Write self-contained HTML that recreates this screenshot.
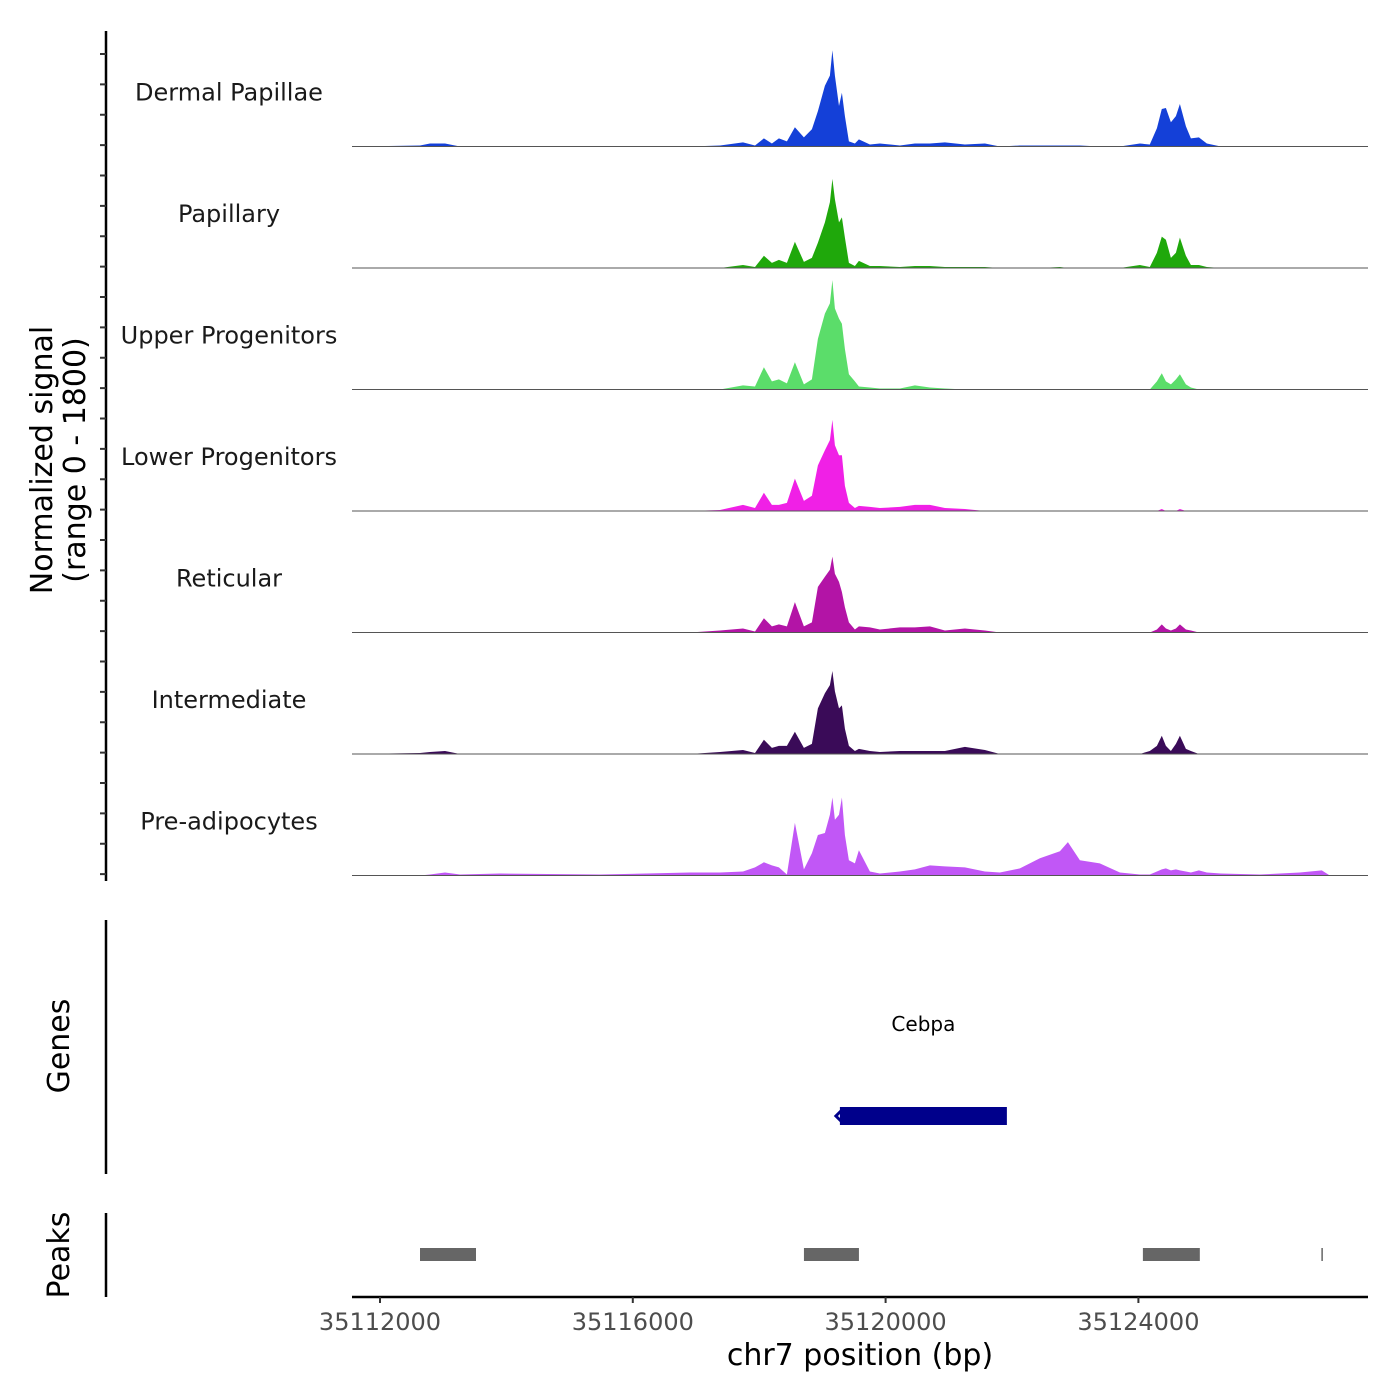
<!DOCTYPE html>
<html><head><meta charset="utf-8">
<style>
html,body{margin:0;padding:0;background:#fff;}
svg{display:block;font-family:"DejaVu Sans","Liberation Sans",sans-serif;}
</style></head>
<body>
<svg id="chart" width="1400" height="1400" viewBox="0 0 1400 1400" xmlns="http://www.w3.org/2000/svg">
<g id="tracks"></g>
<g id="axes"></g>
</svg>
<script>
// ---- data ----
const positions = [35111557,35112633,35112791,35113028,35113266,35113898,35115480,35116904,35117379,35117743,35117933,35118075,35118201,35118312,35118439,35118565,35118708,35118834,35118929,35119040,35119119,35119159,35119198,35119262,35119309,35119356,35119420,35119515,35119578,35119752,35119910,35120226,35120464,35120701,35120938,35121255,35121571,35121808,35122125,35122441,35122758,35122884,35123074,35123390,35123707,35124023,35124181,35124292,35124371,35124435,35124514,35124593,35124656,35124751,35124830,35124957,35125083,35125305,35125922,35126554,35126902,35127029,35127630];
const trackNames = ["Dermal Papillae","Papillary","Upper Progenitors","Lower Progenitors","Reticular","Intermediate","Pre-adipocytes"];
const trackColors = ["#1440d8","#1fa80b","#5bdd6a","#f020e6","#b314a6","#3a0b58","#c157f6"];
const dermalPapillae = [0,15,45,45,0,0,0,0,15,60,15,120,45,120,75,285,135,255,525,900,1050,1425,1050,600,795,450,75,45,105,30,45,15,45,45,60,30,45,0,15,15,15,15,15,0,0,45,30,270,555,570,360,450,630,300,120,135,45,0,0,0,0,0,0];
const papillary = [0,0,0,0,0,0,0,0,0,45,15,180,75,120,75,390,90,150,375,675,975,1320,1020,675,750,450,75,30,105,30,30,15,30,30,15,15,15,0,0,0,15,0,0,0,0,45,15,225,465,420,150,225,450,180,45,45,15,0,0,0,0,0,0];
const upperProgenitors = [0,0,0,0,0,0,0,0,0,60,45,330,120,150,90,405,75,150,750,1125,1275,1620,1200,1050,975,600,225,120,45,30,15,15,60,30,15,0,0,0,0,0,0,0,0,0,0,0,0,120,240,120,75,150,225,75,30,0,0,0,0,0,0,0,0];
const lowerProgenitors = [0,0,0,0,0,0,0,0,15,90,45,270,90,90,120,480,150,225,675,900,1050,1350,975,825,825,375,120,45,75,60,45,60,90,90,45,30,0,0,0,0,0,0,0,0,0,0,0,0,30,0,0,0,30,0,0,0,0,0,0,0,0,0,0];
const reticular = [0,0,0,0,0,0,0,0,30,60,15,210,90,120,90,450,90,150,675,825,930,1125,870,750,600,375,150,45,90,75,45,75,75,90,30,60,30,0,0,0,0,0,0,0,0,0,0,45,120,60,30,60,120,45,30,0,0,0,0,0,0,0,0];
const intermediate = [0,15,30,45,0,0,0,0,30,60,15,210,90,120,120,330,90,150,675,900,1020,1230,930,675,720,375,120,45,75,45,30,45,45,45,45,105,60,0,0,0,0,0,0,0,0,0,45,120,270,120,45,150,270,75,45,0,0,0,0,0,0,0,0];
const preAdipocytes = [0,0,15,45,15,30,15,45,45,60,120,195,150,120,15,780,90,330,600,630,900,1155,825,900,1155,600,225,180,375,60,30,60,90,150,135,120,60,45,105,255,360,495,225,180,45,15,15,60,90,105,75,90,75,60,45,75,45,30,15,45,75,0,0];
const trackValues = [dermalPapillae,papillary,upperProgenitors,lowerProgenitors,reticular,intermediate,preAdipocytes];
const xTicks = [35112000,35116000,35120000,35124000];
const geneName = "Cebpa";
const geneStart = 35119277, geneEnd = 35121919;
const peakStarts = [35112633,35118708,35124071,35126895];
const peakEnds = [35113519,35119578,35124972,35126905];
const signalMax = 1800;

// ---- scales ----
const X0 = 380, BP0 = 35112000, PXPERBP = 63.2/1000;
function xs(bp){ return X0 + (bp - BP0) * PXPERBP; }
const trackTop = 25, trackH = 121.5;
function baseY(i){ return trackTop + trackH*(i+1); }
function ys(i, v){ return baseY(i) - v / signalMax * trackH; }

const NS = "http://www.w3.org/2000/svg";
function mk(tag, attrs, parent){
  const e = document.createElementNS(NS, tag);
  for (const k in attrs) e.setAttribute(k, attrs[k]);
  parent.appendChild(e); return e;
}
const tracks = document.getElementById('tracks');
const axes = document.getElementById('axes');
const PX_L = 352, PX_R = 1368;

trackValues.forEach((vals, i) => {
  const g = mk('g', {}, tracks);
  
  
  let d = 'M' + PX_L + ',' + baseY(i);
  positions.forEach((p, j) => {
    const x = Math.min(PX_R, Math.max(PX_L, xs(p)));
    d += ' L' + x.toFixed(1) + ',' + ys(i, vals[j]).toFixed(1);
  });
  d += ' L' + PX_R + ',' + baseY(i) + ' Z';
  const area = mk('path', {d: d, fill: trackColors[i], stroke: 'none'}, g);
  
  
  const bl = mk('line', {x1: PX_L, x2: PX_R, y1: baseY(i), y2: baseY(i), stroke: '#555', 'stroke-width': 1}, g);
  
  
  const lab = mk('text', {x: 229, y: baseY(i) - 55 + 9, 'text-anchor': 'middle', 'font-size': 24, fill: '#1a1a1a'}, g);
  lab.textContent = trackNames[i];
  
  
});

// left signal axis
const ya = mk('line', {x1: 106, x2: 106, y1: 31, y2: 881, stroke: '#000', 'stroke-width': 2.5}, axes);


for (let k = 0; k <= 28; k++) {
  const y = trackTop + 31 + k * (trackH/4) - 2;
  if (y > 880) break;
  const t = mk('line', {x1: 100, x2: 106, y1: y, y2: y, stroke: '#333', 'stroke-width': 2}, axes);
  
  
}
const yt = mk('text', {transform: 'translate(52,460) rotate(-90)', 'text-anchor': 'middle', 'font-size': 30, fill: '#000'}, axes);
yt.textContent = 'Normalized signal';


const yt2 = mk('text', {transform: 'translate(85,460) rotate(-90)', 'text-anchor': 'middle', 'font-size': 30, fill: '#000'}, axes);
yt2.textContent = '(range 0 - 1800)';



// genes panel
const ga = mk('line', {x1: 106, x2: 106, y1: 920, y2: 1174, stroke: '#000', 'stroke-width': 2.5}, axes);


const gt = mk('text', {transform: 'translate(69,1046) rotate(-90)', 'text-anchor': 'middle', 'font-size': 30, fill: '#000'}, axes);
gt.textContent = 'Genes';


const gl = mk('text', {x: (xs(geneStart)+xs(geneEnd))/2, y: 1031, 'text-anchor': 'middle', 'font-size': 20, fill: '#000'}, axes);
gl.textContent = geneName;


const gb = mk('rect', {x: xs(geneStart), y: 1107, width: xs(geneEnd)-xs(geneStart), height: 18, fill: '#00008b'}, axes);


const ga2 = mk('path', {d: 'M' + (xs(geneStart)+2) + ',1110 L' + (xs(geneStart)-4) + ',1116 L' + (xs(geneStart)+2) + ',1122', fill: 'none', stroke: '#00008b', 'stroke-width': 3}, axes);



// peaks panel
const pa = mk('line', {x1: 106, x2: 106, y1: 1213, y2: 1297, stroke: '#000', 'stroke-width': 2.5}, axes);


const pt = mk('text', {transform: 'translate(69,1255) rotate(-90)', 'text-anchor': 'middle', 'font-size': 30, fill: '#000'}, axes);
pt.textContent = 'Peaks';


peakStarts.forEach((s, i) => {
  const r = mk('rect', {x: xs(s), y: 1248, width: Math.max(1.5, xs(peakEnds[i]) - xs(s)), height: 13, fill: '#666'}, axes);
  
  
});

// x axis
const xa = mk('line', {x1: PX_L, x2: PX_R, y1: 1297, y2: 1297, stroke: '#000', 'stroke-width': 2.5}, axes);


xTicks.forEach(t => {
  const tk = mk('line', {x1: xs(t), x2: xs(t), y1: 1297, y2: 1303, stroke: '#333', 'stroke-width': 2}, axes);
  
  
  const tl = mk('text', {x: xs(t), y: 1330, 'text-anchor': 'middle', 'font-size': 24, fill: '#4d4d4d'}, axes);
  tl.textContent = String(t);
  
  
});
const xt = mk('text', {x: 860, y: 1365, 'text-anchor': 'middle', 'font-size': 30, fill: '#000'}, axes);
xt.textContent = 'chr7 position (bp)';


</script>
</body></html>
